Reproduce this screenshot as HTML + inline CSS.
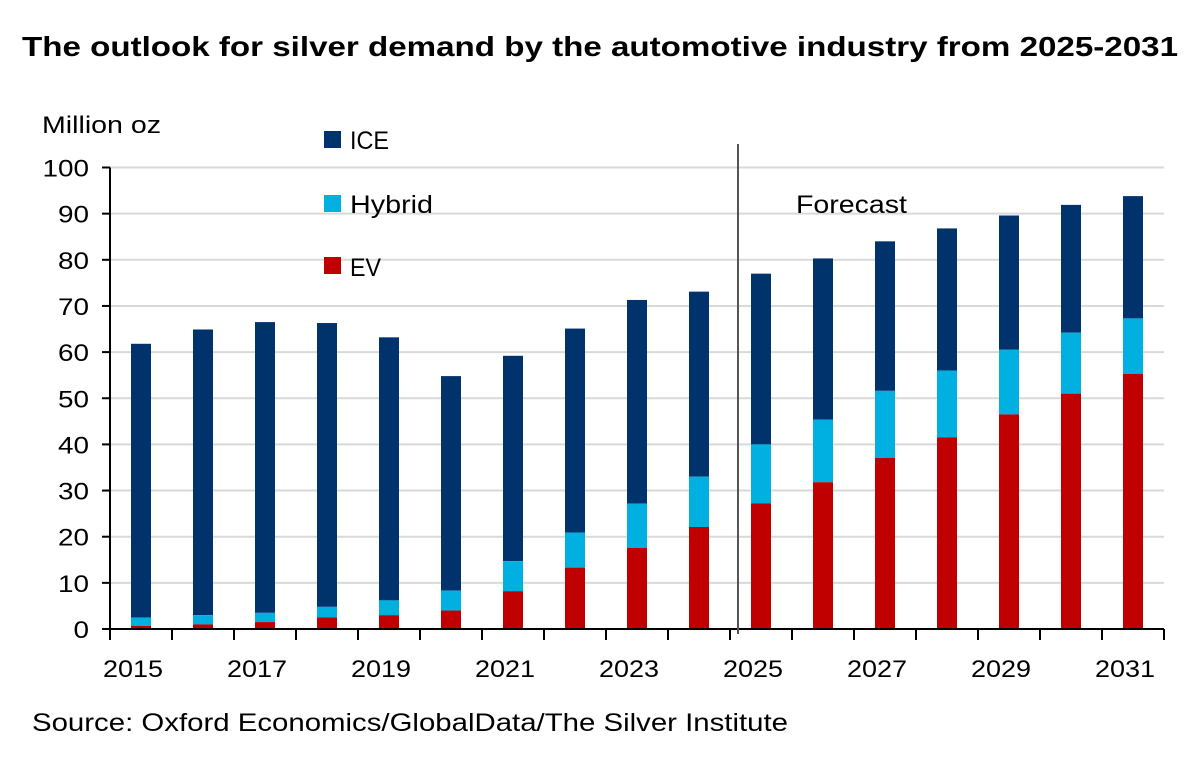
<!DOCTYPE html>
<html><head><meta charset="utf-8">
<style>
html,body{margin:0;padding:0;background:#fff;}
svg{display:block;font-family:"Liberation Sans",Arial,sans-serif;}
</style></head>
<body>
<svg id="c" width="1200" height="760" viewBox="0 0 1200 760" xmlns="http://www.w3.org/2000/svg">
<rect width="1200" height="760" fill="#fff"/>
<text x="22" y="56" font-size="28" font-weight="bold" fill="#000" textLength="1156" lengthAdjust="spacingAndGlyphs">The outlook for silver demand by the automotive industry from 2025-2031</text>
<text x="42" y="133" font-size="24" fill="#000" textLength="119" lengthAdjust="spacingAndGlyphs">Million oz</text>
<g id="grid"></g>
<g id="bars"></g>
<line x1="738" y1="144" x2="738" y2="634" stroke="#555" stroke-width="2"/>
<text x="796" y="213" font-size="25" fill="#000" textLength="111" lengthAdjust="spacingAndGlyphs">Forecast</text>
<rect x="324" y="131" width="17" height="17" fill="#00336b"/>
<text x="350" y="149" font-size="25" fill="#000" textLength="39" lengthAdjust="spacingAndGlyphs">ICE</text>
<rect x="324" y="195" width="17" height="17" fill="#00b0e0"/>
<text x="350" y="213" font-size="25" fill="#000" textLength="83" lengthAdjust="spacingAndGlyphs">Hybrid</text>
<rect x="324" y="257" width="17" height="17" fill="#c00000"/>
<text x="350" y="276" font-size="25" fill="#000" textLength="31" lengthAdjust="spacingAndGlyphs">EV</text>
<text x="32" y="731" font-size="25" fill="#000" textLength="756" lengthAdjust="spacingAndGlyphs">Source: Oxford Economics/GlobalData/The Silver Institute</text>
</svg>
<script>
var NS="http://www.w3.org/2000/svg";
function el(t,a,p,txt){var e=document.createElementNS(NS,t);for(var k in a)e.setAttribute(k,a[k]);if(txt!=null)e.textContent=txt;p.appendChild(e);return e;}
var g=document.getElementById('grid'),b=document.getElementById('bars');
var y0=629,s=4.615,x0=110,x1=1164,w=(x1-x0)/17;
function Y(v){return y0-v*s;}
for(var i=0;i<=10;i++){var y=Y(i*10);
 if(i>0)el('line',{x1:x0,y1:y,x2:x1,y2:y,stroke:'#d9d9d9','stroke-width':2},g);
 el('line',{x1:x0-8,y1:y,x2:x0,y2:y,stroke:'#000','stroke-width':2},g);
 var t=String(i*10);
 el('text',{x:89,y:y+9,'font-size':24,'text-anchor':'end',fill:'#000',textLength:(t.length*15.5),lengthAdjust:'spacingAndGlyphs'},g,t);}
var d=[[61.8,2.5,0.7],[64.9,3,1],[66.5,3.5,1.5],[66.3,4.8,2.5],[63.2,6.2,3],[54.8,8.3,4],[59.2,14.7,8.2],[65.1,20.9,13.3],[71.3,27.2,17.6],[73.1,33,22.1],[77,40,27.2],[80.3,45.4,31.8],[84,51.6,37.1],[86.8,56,41.5],[89.6,60.5,46.5],[91.9,64.2,51],[93.8,67.3,55.3]];
for(var i=0;i<17;i++){var c=x0+w*(i+0.5),bw=20,bx=c-bw/2,v=d[i];
 el('rect',{x:bx,y:Y(v[0]),width:bw,height:(v[0]-v[1])*s,fill:'#00336b'},b);
 el('rect',{x:bx,y:Y(v[1]),width:bw,height:(v[1]-v[2])*s,fill:'#00b0e0'},b);
 el('rect',{x:bx,y:Y(v[2]),width:bw,height:v[2]*s,fill:'#c00000'},b);
 if(i%2==0)el('text',{x:c-8,y:677,'font-size':24,'text-anchor':'middle',fill:'#000',textLength:60,lengthAdjust:'spacingAndGlyphs'},b,String(2015+i));
}
for(var i=0;i<=17;i++){var x=x0+w*i;el('line',{x1:x,y1:y0,x2:x,y2:y0+11,stroke:'#000','stroke-width':2},b);}
el('line',{x1:x0,y1:y0,x2:x1,y2:y0,stroke:'#000','stroke-width':2},b);
el('line',{x1:x0,y1:Y(100),x2:x0,y2:y0,stroke:'#000','stroke-width':2},b);
</script>
</body></html>
